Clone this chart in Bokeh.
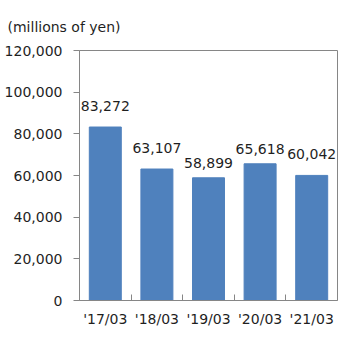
from bokeh.plotting import figure
from bokeh.models import FixedTicker, NumeralTickFormatter, Range1d, ColumnDataSource, LabelSet
from bokeh.core.properties import value
from bokeh.embed import file_html
from bokeh.resources import INLINE

categories = ["'17/03", "'18/03", "'19/03", "'20/03", "'21/03"]
values = [83272, 63107, 58899, 65618, 60042]
y_ticks = [0, 20000, 40000, 60000, 80000, 100000, 120000]
unit_label = "(millions of yen)"

FONT = "DejaVu Sans"
TXT = "#1f1f1f"
GRAY = "#868686"
BAR = "#4F81BD"
label_gap = [16, 16, 10, 10, 16]

xs = list(range(len(categories)))
src = ColumnDataSource(dict(
    x=xs, top=values,
    txt=[f"{v:,}" for v in values],
    off=label_gap,
))

p = figure(width=350, height=350, output_backend="svg", toolbar_location=None,
           x_range=Range1d(-0.5, len(categories) - 0.5), y_range=Range1d(0, 120000),
           min_border_left=79, min_border_right=13, min_border_top=49, min_border_bottom=50)
p.background_fill_color = "white"
p.border_fill_color = "white"
p.outline_line_color = GRAY
p.outline_line_width = 1
p.xgrid.visible = False
p.ygrid.visible = False

p.title.text = unit_label
p.title.align = "left"
p.title.offset = -72
p.title.text_font = FONT
p.title.text_font_size = "14px"
p.title.text_font_style = "normal"
p.title.text_color = TXT
p.title.standoff = 32

p.vbar(x="x", top="top", width=0.62, bottom=0, color=BAR, source=src)

labels = LabelSet(x="x", y="top", text="txt", source=src, y_offset="off",
                  text_align="center", text_baseline="bottom",
                  text_font=value(FONT), text_font_size=value("14px"), text_color=value(TXT))
p.add_layout(labels)

# y axis
p.yaxis.ticker = FixedTicker(ticks=y_ticks)
p.yaxis.formatter = NumeralTickFormatter(format="0,0")
p.yaxis.axis_line_color = GRAY
p.yaxis.major_tick_line_color = GRAY
p.yaxis.major_tick_in = 0
p.yaxis.major_tick_out = 6
p.yaxis.minor_tick_line_color = None
p.yaxis.major_label_standoff = 11
p.yaxis.major_label_text_font = FONT
p.yaxis.major_label_text_font_size = "14px"
p.yaxis.major_label_text_color = TXT

# x axis
p.xaxis.ticker = FixedTicker(ticks=xs, minor_ticks=[i + 0.5 for i in xs[:-1]])
p.xaxis.major_label_overrides = {i: c for i, c in zip(xs, categories)}
p.xaxis.axis_line_color = GRAY
p.xaxis.major_tick_line_color = None
p.xaxis.minor_tick_line_color = GRAY
p.xaxis.minor_tick_in = 6
p.xaxis.minor_tick_out = 0
p.xaxis.major_label_standoff = 4
p.xaxis.major_label_text_font = FONT
p.xaxis.major_label_text_font_size = "14px"
p.xaxis.major_label_text_color = TXT

open("out.html", "w").write(file_html(p, INLINE))
